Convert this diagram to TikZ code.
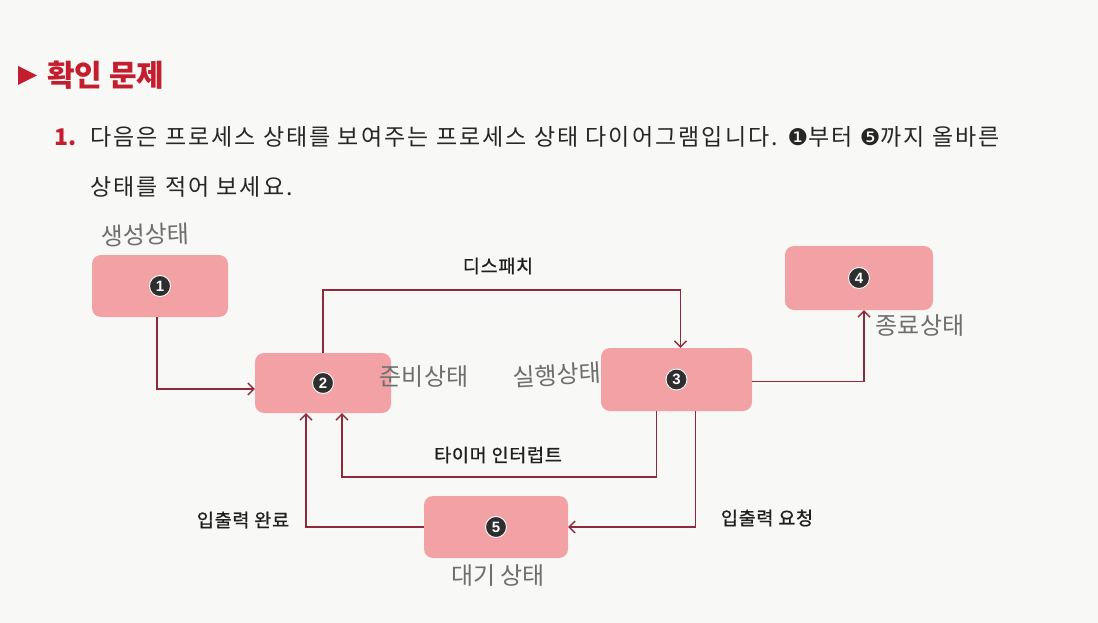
\documentclass[tikz,border=0pt]{standalone}
\usepackage{fontspec}
\setmainfont{Noto Sans CJK KR}
\newfontfamily\dejavu{DejaVu Sans}
\newfontfamily\numfont{Liberation Sans}
\newfontfamily\lblfont[FakeBold=0.9, LetterSpace=4]{Noto Sans CJK KR}
\usetikzlibrary{arrows.meta}
\definecolor{paper}{HTML}{F8F8F6}
\definecolor{boxpink}{HTML}{F2A2A5}
\definecolor{linered}{HTML}{8E2A3C}
\definecolor{titlered}{HTML}{C41E2E}
\definecolor{pencil}{HTML}{6E6E6E}
\definecolor{numdark}{HTML}{2E2E2E}
\tikzset{
  statebox/.style={fill=boxpink, draw=none, rounded corners=9pt, inner sep=0pt},
  numdot/.style={circle, fill=numdark, draw=white, line width=0.9pt, minimum size=21pt, inner sep=0pt,
    text=white, font=\numfont\bfseries\fontsize{15}{15}\selectfont},
  conn/.style={draw=linered, line width=1.6pt, -{Straight Barb[length=6pt,width=12pt,line width=1.4pt]}},
  lbl/.style={font=\lblfont\fontsize{18.5}{20}\selectfont, text=black!88},
  hand/.style={font=\fontsize{24}{26}\selectfont, text=pencil},
  body/.style={font=\fontsize{23}{26}\selectfont\addfontfeatures{LetterSpace=9}, text=black!85, anchor=west, inner sep=0pt}
}
\begin{document}
\begin{tikzpicture}[x=1pt, y=-1pt]
\useasboundingbox (0,0) rectangle (1098,623);
\fill[paper] (0,0) rectangle (1098,623);

% title
\fill[titlered] (18,66) -- (37,75.5) -- (18,85) -- cycle;
\node[anchor=west, inner sep=0pt, text=titlered, font=\bfseries\fontsize{30}{32}\selectfont] (title) at (47,75) {확인 문제};

% question
\node[anchor=west, inner sep=0pt, text=titlered, font=\bfseries\fontsize{23}{26}\selectfont] (qnum) at (54,137) {1.};
\node[body] (q1) at (90,137) {다음은 프로세스 상태를 보여주는 프로세스 상태 다이어그램입니다. {\dejavu ❶}부터 {\dejavu ❺}까지 올바른};
\node[body] (q2) at (90,187) {상태를 적어 보세요.};

% state boxes
\node[statebox, minimum width=136pt, minimum height=62pt] (b1) at (160,286) {};
\node[statebox, minimum width=136pt, minimum height=60pt] (b2) at (323,383) {};
\node[statebox, minimum width=151pt, minimum height=63pt] (b3) at (676.5,379.5) {};
\node[statebox, minimum width=148pt, minimum height=64pt] (b4) at (859,278) {};
\node[statebox, minimum width=144pt, minimum height=62pt] (b5) at (496,527) {};

\node[numdot] (n1) at (b1) {1};
\node[numdot] (n2) at (b2) {2};
\node[numdot] (n3) at (b3) {3};
\node[numdot] (n4) at (b4) {4};
\node[numdot] (n5) at (b5) {5};

% connectors
\draw[conn] ([xshift=-3pt]b1.south) |- ([yshift=-6pt]b2.west);
\draw[conn] (b2.north) -- ++(0,-63) -| ([xshift=4pt]b3.north);
\draw[conn] ([yshift=-2pt]b3.east) -| ([xshift=5pt]b4.south);
\draw[conn] ([xshift=-20pt]b3.south) -- ++(0,66) -| ([xshift=19pt]b2.south);
\draw[conn] ([xshift=19pt]b3.south) |- (b5.east);
\draw[conn] (b5.west) -| ([xshift=-17pt]b2.south);

% connector labels
\node[lbl] (l1) at (498,266) {디스패치};
\node[lbl] (l2) at (498,455) {타이머 인터럽트};
\node[lbl] (l3) at (767,518) {입출력 요청};
\node[lbl] (l4) at (243,520) {입출력 완료};

% handwritten answers
\node[hand, rotate=2] (h1) at (145,235) {생성상태};
\node[hand] (h2) at (424,377) {준비상태};
\node[hand, rotate=3] (h3) at (557,375) {실행상태};
\node[hand] (h4) at (920,326) {종료상태};
\node[hand] (h5) at (498,576) {대기 상태};
\end{tikzpicture}
\end{document}
